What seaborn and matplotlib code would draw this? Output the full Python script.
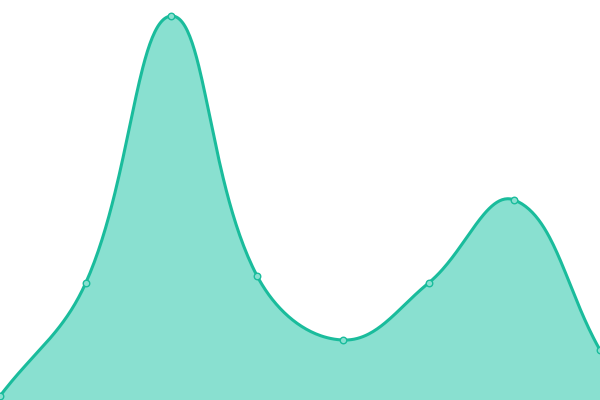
import numpy as np
import pandas as pd
import matplotlib
matplotlib.use("Agg")
import matplotlib.pyplot as plt
import seaborn as sns

X_VALUES = [0, 1, 2, 3, 4, 5, 6, 7]
Y_VALUES = [4, 117, 384, 124, 60, 117, 200, 50]

LINE_COLOR = "#1abc9c"
FILL_COLOR = "#89e0d0"
TENSION = 0.4

WIDTH_PX, HEIGHT_PX = 600, 400
X_MAX, Y_MAX = 7, 400


def spline_control_points(px, py, tension):
    # bezier control points from neighbour distances, worked out in pixel space
    n = len(px)
    before, after = [], []
    for i in range(n):
        p0 = np.array([px[max(i - 1, 0)], py[max(i - 1, 0)]])
        p1 = np.array([px[i], py[i]])
        p2 = np.array([px[min(i + 1, n - 1)], py[min(i + 1, n - 1)]])
        d01 = np.hypot(*(p1 - p0))
        d12 = np.hypot(*(p2 - p1))
        total = d01 + d12
        s01 = d01 / total if total else 0
        s12 = d12 / total if total else 0
        before.append(p1 - tension * s01 * (p2 - p0))
        after.append(p1 + tension * s12 * (p2 - p0))
    return before, after


def bezier_curve(x, y, steps=60):
    sx = WIDTH_PX / X_MAX
    sy = HEIGHT_PX / Y_MAX
    px = [v * sx for v in x]
    py = [v * sy for v in y]
    before, after = spline_control_points(px, py, TENSION)
    xs, ys = [], []
    for i in range(len(px) - 1):
        a = np.array([px[i], py[i]])
        b = after[i]
        c = before[i + 1]
        d = np.array([px[i + 1], py[i + 1]])
        t = np.linspace(0, 1, steps, endpoint=False)[:, None]
        pts = (1 - t) ** 3 * a + 3 * (1 - t) ** 2 * t * b + 3 * (1 - t) * t ** 2 * c + t ** 3 * d
        xs.append(pts[:, 0])
        ys.append(pts[:, 1])
    xs.append([px[-1]])
    ys.append([py[-1]])
    return np.concatenate(xs) / sx, np.concatenate(ys) / sy


points = pd.DataFrame({"x": X_VALUES, "y": Y_VALUES})
cx, cy = bezier_curve(X_VALUES, Y_VALUES)
curve = pd.DataFrame({"x": cx, "y": cy})

sns.set_style("white")
fig = plt.figure(figsize=(6, 4), dpi=100)
ax = fig.add_axes([0, 0, 1, 1])

ax.fill_between(curve["x"], 0, curve["y"], color=FILL_COLOR, linewidth=0)
sns.lineplot(data=curve, x="x", y="y", color=LINE_COLOR, linewidth=2.2, ax=ax, sort=False)
sns.scatterplot(data=points, x="x", y="y", s=22, color=FILL_COLOR,
                edgecolor=LINE_COLOR, linewidth=1, ax=ax, zorder=5, clip_on=False)

ax.set_xlim(0, X_MAX)
ax.set_ylim(0, Y_MAX)
ax.axis("off")

plt.savefig("out.png", dpi=100)
plt.close()
